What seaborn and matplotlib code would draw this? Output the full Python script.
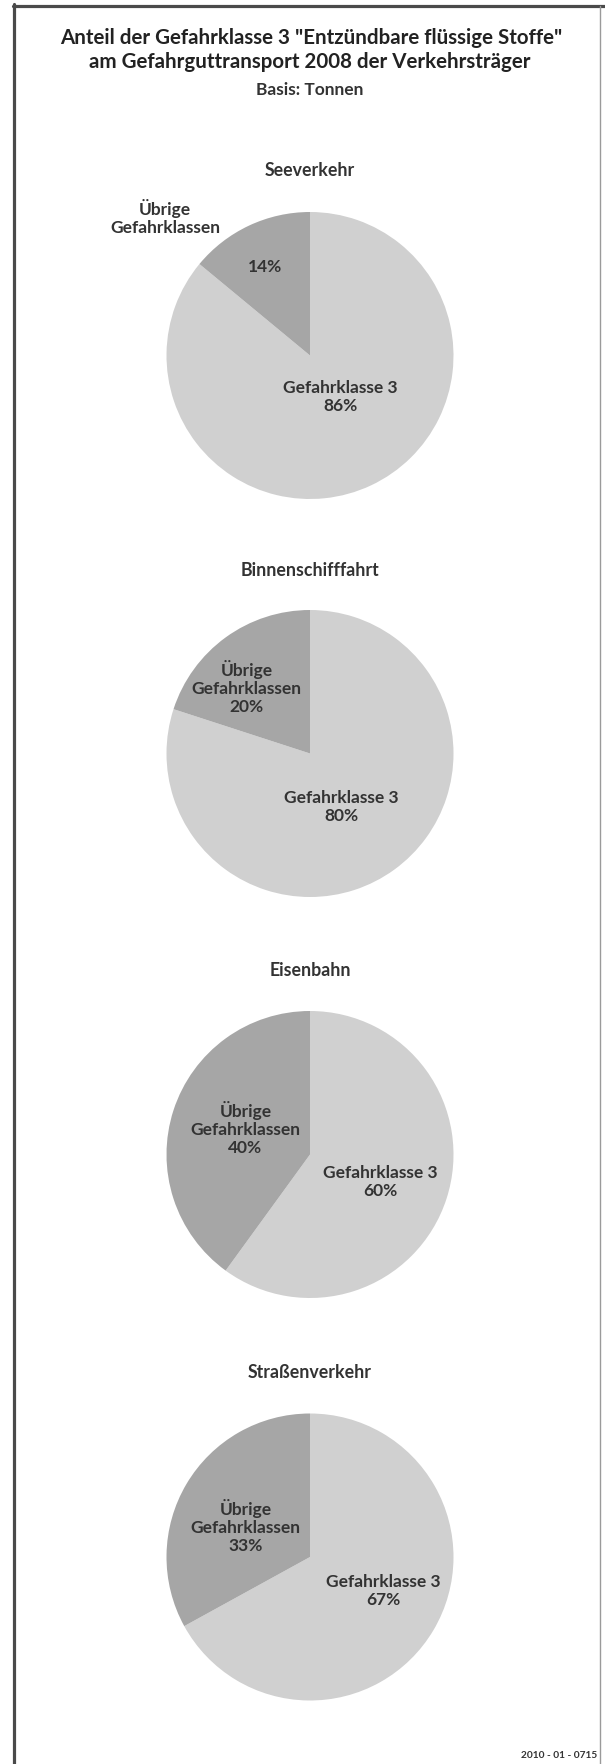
import matplotlib
matplotlib.use("Agg")
import matplotlib.pyplot as plt
from matplotlib.lines import Line2D
import seaborn as sns

# ---- data ----
title_lines = ['Anteil der Gefahrklasse 3 "Entzündbare flüssige Stoffe"',
               'am Gefahrguttransport 2008 der Verkehrsträger']
subtitle = "Basis: Tonnen"
footer = "2010 - 01 - 0715"
modes = ["Seeverkehr", "Binnenschifffahrt", "Eisenbahn", "Straßenverkehr"]
categories = ["Gefahrklasse 3", "Übrige\nGefahrklassen"]
share_class3 = [86, 80, 60, 67]
share_other = [14, 20, 40, 33]

# ---- layout (pixels / pie-radius units) ----
W, H, DPI = 605, 1764, 100
pie_cx = 310
pie_cy = [355.5, 753.5, 1154.5, 1557]
pie_r = 143.5
mode_title_y = [171, 570, 970, 1373]
# label positions in pie-radius units: (class3, other)
lab_pos = [((0.21, -0.29), (-1.01, 0.96)),
           ((0.22, -0.37), (-0.44, 0.46)),
           ((0.49, -0.19), (-0.45, 0.18)),
           ((0.51, -0.24), (-0.45, 0.21))]
pct_inside_other = [(-0.31, 0.62), None, None, None]

sns.set_theme(style="white")
plt.rcParams['font.family'] = ['Lato', 'DejaVu Sans']
colors = ["#d0d0d0", "#a6a6a6"]
txt_col = "#333333"
fs_lab = 12.5
ls = 1.15

fig = plt.figure(figsize=(W / DPI, H / DPI), dpi=DPI)
fig.patch.set_facecolor("white")

def fx(x):
    return x / W

def fy(y):
    return 1 - y / H

# frame
fig.add_artist(Line2D([fx(13.5), fx(13.5)], [fy(4), fy(H + 5)], color="#4a4a4a", lw=2.3, transform=fig.transFigure))
fig.add_artist(Line2D([fx(12.5), fx(W)], [fy(5.5), fy(5.5)], color="#4a4a4a", lw=2.3, transform=fig.transFigure))
fig.add_artist(Line2D([fx(600), fx(600)], [fy(5.5), fy(H + 5)], color="#9a9a9a", lw=1.0, transform=fig.transFigure))

# titles
fig.text(fx(311), fy(37.5), title_lines[0], ha="center", va="center", fontsize=14.8, fontweight="bold", color="#222222")
fig.text(fx(310), fy(61.5), title_lines[1], ha="center", va="center", fontsize=14.8, fontweight="bold", color="#222222")
fig.text(fx(310), fy(90), subtitle, ha="center", va="center", fontsize=12.5, fontweight="bold", color=txt_col)
fig.text(fx(597), fy(1755), footer, ha="right", va="center", fontsize=7.3, fontweight="bold", color=txt_col)

for i, mode in enumerate(modes):
    cy = pie_cy[i]
    ax = fig.add_axes([fx(pie_cx - pie_r), fy(cy + pie_r), 2 * pie_r / W, 2 * pie_r / H])
    vals = [share_class3[i], share_other[i]]
    ax.pie(vals, colors=colors, startangle=90, counterclock=False, radius=1,
           wedgeprops=dict(linewidth=0))
    ax.set_xlim(-1, 1)
    ax.set_ylim(-1, 1)
    ax.set_aspect("equal")
    ax.axis("off")
    fig.text(fx(pie_cx), fy(mode_title_y[i]), mode, ha="center", va="center",
             fontsize=12.8, fontweight="bold", color=txt_col)
    (p3, po) = lab_pos[i]
    ax.text(p3[0], p3[1], f"{categories[0]}\n{vals[0]}%", ha="center", va="center",
            fontsize=fs_lab, fontweight="bold", color=txt_col, linespacing=ls)
    if pct_inside_other[i] is None:
        ax.text(po[0], po[1], f"{categories[1]}\n{vals[1]}%", ha="center", va="center",
                fontsize=fs_lab, fontweight="bold", color=txt_col, linespacing=ls)
    else:
        ax.text(po[0], po[1], categories[1], ha="center", va="center",
                fontsize=fs_lab, fontweight="bold", color=txt_col, linespacing=ls)
        q = pct_inside_other[i]
        ax.text(q[0], q[1], f"{vals[1]}%", ha="center", va="center",
                fontsize=fs_lab, fontweight="bold", color=txt_col)

fig.savefig("out.png", dpi=DPI)
